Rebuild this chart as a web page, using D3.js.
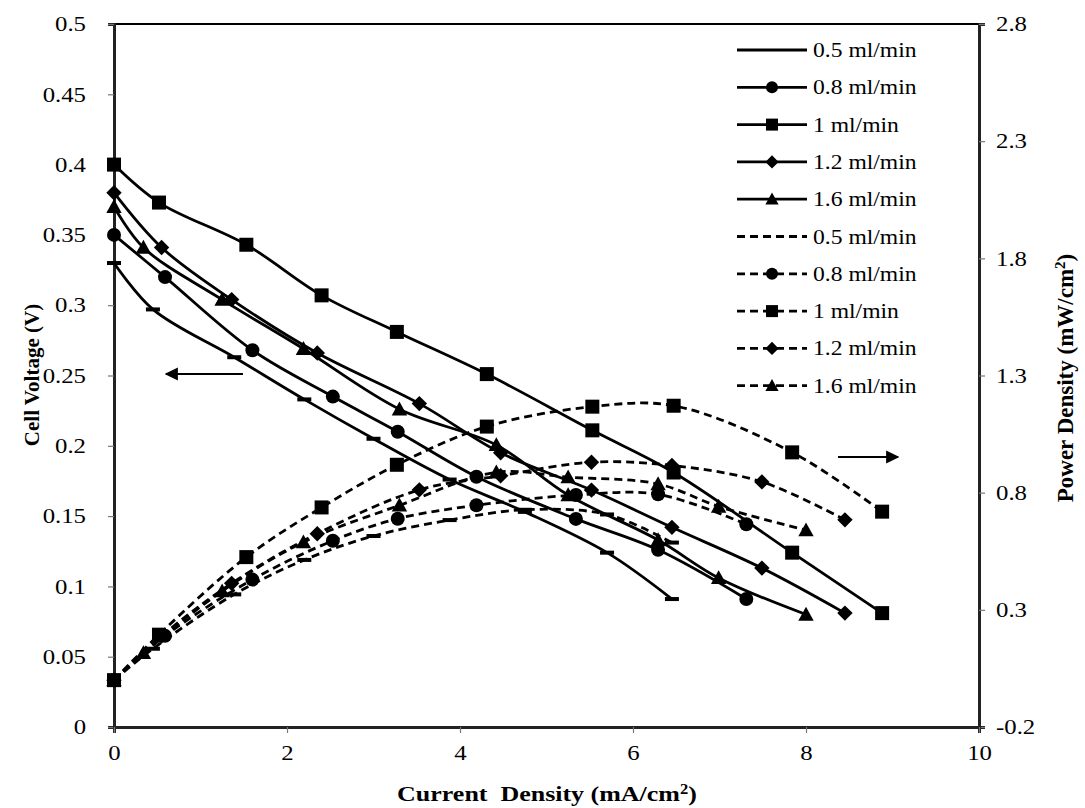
<!DOCTYPE html>
<html>
<head>
<meta charset="utf-8">
<script src="https://cdn.jsdelivr.net/npm/d3@7"></script>
<style>
  body { margin: 0; background: #fff; }
  text { font-family: "Liberation Serif", "Times New Roman", serif; fill: #000; }
</style>
</head>
<body>
<svg id="chart" width="1085" height="808"></svg>
<script>
// flow rates and marker shapes, same order for both groups
const flowLabels = ["0.5 ml/min", "0.8 ml/min", "1 ml/min", "1.2 ml/min", "1.6 ml/min"];
const markerTypes = ["dash", "circle", "square", "diamond", "triangle"];

// current density (mA/cm2)
const current05 = [0, 0.45, 1.39, 2.2, 3.0, 3.88, 4.75, 5.7, 6.45];
const current08 = [0, 0.59, 1.6, 2.53, 3.28, 4.19, 5.34, 6.29, 7.31];
const current10 = [0, 0.52, 1.53, 2.40, 3.27, 4.31, 5.53, 6.47, 7.84, 8.88];
const current12 = [0, 0.55, 1.36, 2.35, 3.53, 4.47, 5.52, 6.45, 7.49, 8.45];
const current16 = [0, 0.34, 1.25, 2.19, 3.3, 4.42, 5.25, 6.29, 6.99, 8.0];

// cell voltage (V)
const voltage05 = [0.33, 0.297, 0.263, 0.233, 0.205, 0.176, 0.153, 0.124, 0.091];
const voltage08 = [0.35, 0.32, 0.268, 0.235, 0.21, 0.178, 0.148, 0.126, 0.091];
const voltage10 = [0.40, 0.373, 0.343, 0.307, 0.281, 0.251, 0.211, 0.181, 0.124, 0.081];
const voltage12 = [0.38, 0.341, 0.304, 0.266, 0.230, 0.195, 0.1685, 0.142, 0.113, 0.081];
const voltage16 = [0.37, 0.341, 0.304, 0.269, 0.226, 0.2006, 0.165, 0.133, 0.106, 0.080];

// power density (mW/cm2)
const power05 = [0, 0.134, 0.366, 0.513, 0.615, 0.683, 0.727, 0.707, 0.587];
const power08 = [0, 0.189, 0.429, 0.595, 0.689, 0.746, 0.790, 0.793, 0.665];
const power10 = [0, 0.194, 0.525, 0.737, 0.919, 1.082, 1.167, 1.171, 0.972, 0.719];
const power12 = [0, 0.188, 0.413, 0.625, 0.812, 0.872, 0.930, 0.916, 0.846, 0.684];
const power16 = [0, 0.116, 0.380, 0.589, 0.746, 0.887, 0.866, 0.837, 0.741, 0.640];

const xTicks = [0, 2, 4, 6, 8, 10];
const leftTicks = [0, 0.05, 0.1, 0.15, 0.2, 0.25, 0.3, 0.35, 0.4, 0.45, 0.5];
const rightTicks = [-0.2, 0.3, 0.8, 1.3, 1.8, 2.3, 2.8];

const currents = [current05, current08, current10, current12, current16];
const voltages = [voltage05, voltage08, voltage10, voltage12, voltage16];
const powers = [power05, power08, power10, power12, power16];

const svg = d3.select("#chart");
const plotLeft = 114, plotRight = 979, plotTop = 24, plotBottom = 727;

const x = d3.scaleLinear().domain([0, 10]).range([plotLeft, plotRight]);
const yV = d3.scaleLinear().domain([0, 0.5]).range([plotBottom, plotTop]);
const yP = d3.scaleLinear().domain([-0.2, 2.8]).range([plotBottom, plotTop]);

// the source picture is a bit wider than tall, stretch labels to match
function stretch(sel, k) {
    sel.each(function () {
        let w = this.getComputedTextLength();
        this.setAttribute("textLength", w * k);
        this.setAttribute("lengthAdjust", "spacingAndGlyphs");
    });
}

svg.append("rect").attr("width", 1085).attr("height", 808).attr("fill", "#fff");

// frame on top
svg.append("line")
    .attr("x1", plotLeft).attr("x2", plotRight).attr("y1", plotTop).attr("y2", plotTop)
    .attr("stroke", "#000").attr("stroke-width", 2);

// axes
const axisLeft = d3.axisLeft(yV).tickValues(leftTicks).tickSize(6)
    .tickFormat(d => String(+d.toFixed(2)));
const axisRight = d3.axisRight(yP).tickValues(rightTicks).tickSize(6)
    .tickFormat(d => String(+d.toFixed(1)));
const axisBottom = d3.axisBottom(x).tickValues(xTicks).tickSize(6);

function styleAxis(g) {
    g.select(".domain").attr("stroke", "#222").attr("stroke-width", 3);
    g.selectAll(".tick line").attr("stroke", "#777").attr("stroke-width", 1.2);
    g.selectAll(".tick text")
        .style("font-family", "'Liberation Serif', serif")
        .style("font-size", "21px").attr("fill", "#000");
}

svg.append("g").attr("transform", `translate(${plotLeft},0)`).call(axisLeft)
    .call(styleAxis)
    .call(g => g.selectAll(".tick text").attr("x", -28).call(stretch, 1.18));
svg.append("g").attr("transform", `translate(${plotRight},0)`).call(axisRight)
    .call(styleAxis)
    .call(g => g.selectAll(".tick text").attr("x", 17).call(stretch, 1.18));
svg.append("g").attr("transform", `translate(0,${plotBottom})`).call(axisBottom)
    .call(styleAxis)
    .call(g => g.selectAll(".tick text").attr("y", 18).call(stretch, 1.18));

// axis titles
svg.append("text")
    .attr("x", 547).attr("y", 801)
    .attr("text-anchor", "middle")
    .style("font-size", "22px").style("font-weight", "bold")
    .html('Current&#160;&#160;Density (mA/cm<tspan dy="-7" font-size="14px">2</tspan><tspan dy="7">)</tspan>')
    .call(stretch, 1.18);

svg.append("text")
    .attr("transform", "translate(39,375) rotate(-90)")
    .attr("text-anchor", "middle")
    .style("font-size", "21px").style("font-weight", "bold")
    .text("Cell Voltage (V)");

svg.append("text")
    .attr("transform", "translate(1073,378) rotate(-90)")
    .attr("text-anchor", "middle")
    .style("font-size", "23px").style("font-weight", "bold")
    .html('Power Density (mW/cm<tspan dy="-8" font-size="15px">2</tspan><tspan dy="8">)</tspan>');

// markers
function drawMarker(g, type, cx, cy, s) {
    if (type == "dash") {
        g.append("rect").attr("x", cx - s / 2).attr("y", cy - 2)
            .attr("width", s).attr("height", 4).attr("fill", "#000");
    } else if (type == "circle") {
        g.append("circle").attr("cx", cx).attr("cy", cy).attr("r", s / 2).attr("fill", "#000");
    } else if (type == "square") {
        g.append("rect").attr("x", cx - s / 2).attr("y", cy - s / 2)
            .attr("width", s).attr("height", s).attr("fill", "#000");
    } else if (type == "diamond") {
        let h = s * 0.55;
        g.append("path")
            .attr("d", `M${cx},${cy - h}L${cx + h},${cy}L${cx},${cy + h}L${cx - h},${cy}Z`)
            .attr("fill", "#000");
    } else if (type == "triangle") {
        let h = s * 0.55;
        g.append("path")
            .attr("d", `M${cx},${cy - h}L${cx + h},${cy + h * 0.8}L${cx - h},${cy + h * 0.8}Z`)
            .attr("fill", "#000");
    }
}

const smooth = d3.curveCatmullRom.alpha(0.5);

function drawSeries(xs, ys, yScale, type, dashed) {
    let pts = xs.map((v, i) => [x(v), yScale(ys[i])]);
    let line = d3.line().curve(smooth);
    svg.append("path")
        .attr("d", line(pts))
        .attr("fill", "none")
        .attr("stroke", "#000")
        .attr("stroke-width", 2.8)
        .attr("stroke-dasharray", dashed ? "8,5" : null);
    let g = svg.append("g");
    pts.forEach(p => drawMarker(g, type, p[0], p[1], 14));
}

for (let i = 0; i < flowLabels.length; i++) {
    drawSeries(currents[i], voltages[i], yV, markerTypes[i], false);
}
for (let i = 0; i < flowLabels.length; i++) {
    drawSeries(currents[i], powers[i], yP, markerTypes[i], true);
}

// arrows telling which axis belongs to which group
svg.append("defs").append("marker")
    .attr("id", "head")
    .attr("viewBox", "0 0 10 10")
    .attr("refX", 9).attr("refY", 5)
    .attr("markerWidth", 6).attr("markerHeight", 6)
    .attr("markerUnits", "strokeWidth")
    .attr("orient", "auto")
    .append("path").attr("d", "M0,0L10,5L0,10Z").attr("fill", "#000");

svg.append("line")
    .attr("x1", 243).attr("y1", 374).attr("x2", 166).attr("y2", 374)
    .attr("stroke", "#000").attr("stroke-width", 2.2)
    .attr("marker-end", "url(#head)");
svg.append("line")
    .attr("x1", 838).attr("y1", 457).attr("x2", 898).attr("y2", 457)
    .attr("stroke", "#000").attr("stroke-width", 2.2)
    .attr("marker-end", "url(#head)");

// legend
const legend = svg.append("g");
const rowY0 = 50, rowStep = 37.3;
for (let k = 0; k < 10; k++) {
    let i = k % 5;
    let dashed = k >= 5;
    let cy = rowY0 + k * rowStep;
    legend.append("line")
        .attr("x1", 737).attr("x2", 807).attr("y1", cy).attr("y2", cy)
        .attr("stroke", "#000").attr("stroke-width", 2.8)
        .attr("stroke-dasharray", dashed ? "8,5" : null);
    if (markerTypes[i] != "dash") {
        drawMarker(legend, markerTypes[i], 772, cy, 12);
    }
    legend.append("text")
        .attr("x", 813).attr("y", cy + 7)
        .style("font-size", "20px")
        .text(flowLabels[i])
        .call(stretch, 1.18);
}
</script>
</body>
</html>
